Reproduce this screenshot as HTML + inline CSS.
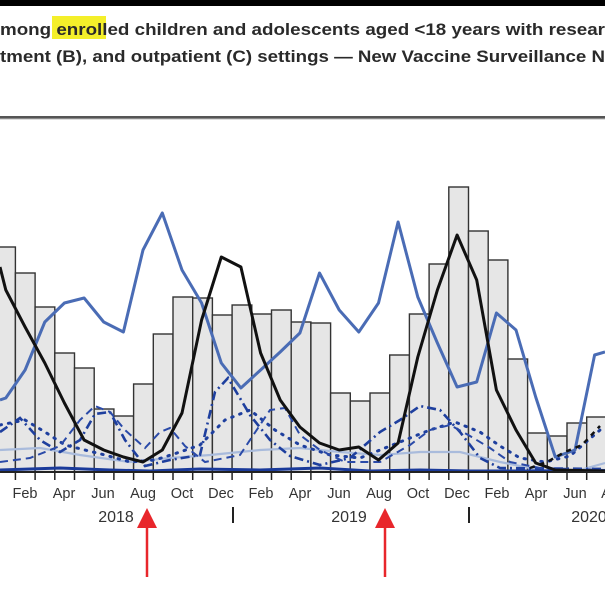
<!DOCTYPE html>
<html><head><meta charset="utf-8"><style>
html,body{margin:0;padding:0;background:#fff;}
svg{display:block;}
</style></head><body>
<svg width="605" height="595" viewBox="0 0 605 595" xmlns="http://www.w3.org/2000/svg">
<rect x="0" y="0" width="605" height="6" fill="#000"/>
<rect x="52" y="16" width="54" height="23" fill="#f4ef2a"/>
<g font-family="Liberation Sans, sans-serif" font-size="17" font-weight="bold" fill="#2a2a2a">
<text x="0" y="35" textLength="605" lengthAdjust="spacingAndGlyphs">mong enrolled children and adolescents aged &lt;18 years with resear</text>
<text x="0" y="62" textLength="605" lengthAdjust="spacingAndGlyphs">tment (B), and outpatient (C) settings — New Vaccine Surveillance N</text>
</g>
<rect x="0" y="116" width="605" height="2.5" fill="#555"/>
<rect x="0" y="118.5" width="605" height="1" fill="#bbb"/>
<g fill="#e6e6e6" stroke="#333" stroke-width="1.4">
<rect x="-4.3" y="247" width="19.7" height="225"/>
<rect x="15.4" y="273" width="19.7" height="199"/>
<rect x="35.1" y="307" width="19.7" height="165"/>
<rect x="54.8" y="353" width="19.7" height="119"/>
<rect x="74.5" y="368" width="19.7" height="104"/>
<rect x="94.2" y="409" width="19.7" height="63"/>
<rect x="113.9" y="416" width="19.7" height="56"/>
<rect x="133.6" y="384" width="19.7" height="88"/>
<rect x="153.3" y="334" width="19.7" height="138"/>
<rect x="173" y="297" width="19.7" height="175"/>
<rect x="192.7" y="298" width="19.7" height="174"/>
<rect x="212.4" y="315" width="19.7" height="157"/>
<rect x="232.1" y="305" width="19.7" height="167"/>
<rect x="251.8" y="314" width="19.7" height="158"/>
<rect x="271.5" y="310" width="19.7" height="162"/>
<rect x="291.2" y="322" width="19.7" height="150"/>
<rect x="310.9" y="323" width="19.7" height="149"/>
<rect x="330.6" y="393" width="19.7" height="79"/>
<rect x="350.3" y="401" width="19.7" height="71"/>
<rect x="370" y="393" width="19.7" height="79"/>
<rect x="389.7" y="355" width="19.7" height="117"/>
<rect x="409.4" y="314" width="19.7" height="158"/>
<rect x="429.1" y="264" width="19.7" height="208"/>
<rect x="448.8" y="187" width="19.7" height="285"/>
<rect x="468.5" y="231" width="19.7" height="241"/>
<rect x="488.2" y="260" width="19.7" height="212"/>
<rect x="507.9" y="359" width="19.7" height="113"/>
<rect x="527.6" y="433" width="19.7" height="39"/>
<rect x="547.3" y="436" width="19.7" height="36"/>
<rect x="567" y="423" width="19.7" height="49"/>
<rect x="586.7" y="417" width="19.7" height="55"/>
</g>
<!-- light blue -->
<polyline fill="none" stroke="#a9bbdc" stroke-width="2.2" points="0,450 40,448 80,455 130,462 170,458 210,455 260,450 300,448 340,452 380,455 420,452 460,452 500,462 540,470 580,470 605,463"/>
<!-- dashed / dotted navy series -->
<polyline fill="none" stroke="#1e3f9e" stroke-width="2.6" stroke-dasharray="9,4,2,4" points="0,432 20,418 40,440 60,452 80,440 95,414 110,412 125,440 145,466 170,460 200,455 215,392 228,378 250,415 270,440 290,456 320,465 350,458 380,432 400,420 420,406 440,410 460,432 480,458 500,468 605,469"/>
<polyline fill="none" stroke="#1e3f9e" stroke-width="3" stroke-dasharray="1.5,7" stroke-linecap="round" points="0,425 25,420 45,432 65,445 85,450 105,455 130,462 155,460 180,452 200,445 225,420 250,410 275,430 300,445 330,455 360,458 385,448 405,440 430,430 455,422 480,432 500,446 520,458 545,462 570,456 600,430"/>
<polyline fill="none" stroke="#2a4aa8" stroke-width="2" stroke-dasharray="8,5" points="0,462 30,458 60,446 80,420 95,406 110,412 125,430 145,448 160,432 170,428 185,446 205,462 240,455 270,410 285,408 300,435 320,450 345,462 380,462 410,445 430,430 450,425 470,436 490,448 510,462 540,468 605,470"/>
<polyline fill="none" stroke="#1a3a9a" stroke-width="3" points="0,470 60,468 110,470 150,471 200,469 260,470 320,468 370,471 420,470 470,471 520,471 605,471"/>
<!-- blue solid -->
<polyline fill="none" stroke="#4a6cb5" stroke-width="3" stroke-linejoin="round" points="0,400 5.8,398 25.1,370 44.8,322 64.4,303 84.1,298 103.7,322 123.4,332 143,250 162.3,213 182,270 201.6,303 221.3,363 240.9,388 260.6,370 280.2,352 299.9,333 319.5,273 339.2,310 358.8,332 378.5,303 398.1,222 417.8,297 437.4,343 457.1,387 476.7,382 496.4,313 516,330 535.7,397 555.3,457 575,450 594.6,355 605,352"/>
<!-- black solid -->
<polyline fill="none" stroke="#111" stroke-width="3" stroke-linejoin="round" points="0,267 5.8,290 25.1,327 44.8,363 64.4,403 84.1,440 103.7,450 123.4,457 143,462 162.3,450 182,413 201.6,320 221.3,257 240.9,267 260.6,353 280.2,400 299.9,427 319.5,443 339.2,450 358.8,447 378.5,460 398.1,443 417.8,357 437.4,290 457.1,235 476.7,280 496.4,390 516,430 535.7,463 555.3,470 605,471"/>
<polyline fill="none" stroke="#111" stroke-width="2.5" stroke-dasharray="5,5" points="530,468 547,462 565,452 582,445 600,426"/>
<!-- axis -->
<line x1="0" y1="472" x2="605" y2="472" stroke="#222" stroke-width="2"/>
<g stroke="#222" stroke-width="1.5">
<line x1="15.4" y1="472" x2="15.4" y2="480"/><line x1="35.1" y1="472" x2="35.1" y2="480"/><line x1="54.8" y1="472" x2="54.8" y2="480"/><line x1="74.5" y1="472" x2="74.5" y2="480"/><line x1="94.2" y1="472" x2="94.2" y2="480"/><line x1="113.9" y1="472" x2="113.9" y2="480"/><line x1="133.6" y1="472" x2="133.6" y2="480"/><line x1="153.3" y1="472" x2="153.3" y2="480"/><line x1="173" y1="472" x2="173" y2="480"/><line x1="192.7" y1="472" x2="192.7" y2="480"/><line x1="212.4" y1="472" x2="212.4" y2="480"/><line x1="232.1" y1="472" x2="232.1" y2="480"/><line x1="251.8" y1="472" x2="251.8" y2="480"/><line x1="271.5" y1="472" x2="271.5" y2="480"/><line x1="291.2" y1="472" x2="291.2" y2="480"/><line x1="310.9" y1="472" x2="310.9" y2="480"/><line x1="330.6" y1="472" x2="330.6" y2="480"/><line x1="350.3" y1="472" x2="350.3" y2="480"/><line x1="370" y1="472" x2="370" y2="480"/><line x1="389.7" y1="472" x2="389.7" y2="480"/><line x1="409.4" y1="472" x2="409.4" y2="480"/><line x1="429.1" y1="472" x2="429.1" y2="480"/><line x1="448.8" y1="472" x2="448.8" y2="480"/><line x1="468.5" y1="472" x2="468.5" y2="480"/><line x1="488.2" y1="472" x2="488.2" y2="480"/><line x1="507.9" y1="472" x2="507.9" y2="480"/><line x1="527.6" y1="472" x2="527.6" y2="480"/><line x1="547.3" y1="472" x2="547.3" y2="480"/><line x1="567" y1="472" x2="567" y2="480"/><line x1="586.7" y1="472" x2="586.7" y2="480"/>
</g>
<g font-family="Liberation Sans, sans-serif" font-size="14.5" fill="#333" text-anchor="middle">
<text x="-14" y="498">Dec</text>
<text x="25" y="498">Feb</text><text x="64" y="498">Apr</text><text x="103" y="498">Jun</text><text x="143" y="498">Aug</text><text x="182" y="498">Oct</text><text x="221" y="498">Dec</text>
<text x="261" y="498">Feb</text><text x="300" y="498">Apr</text><text x="339" y="498">Jun</text><text x="379" y="498">Aug</text><text x="418" y="498">Oct</text><text x="457" y="498">Dec</text>
<text x="497" y="498">Feb</text><text x="536" y="498">Apr</text><text x="575" y="498">Jun</text><text x="614" y="498">Aug</text>
</g>
<g font-family="Liberation Sans, sans-serif" font-size="16" fill="#333" text-anchor="middle">
<text x="116" y="522">2018</text><text x="349" y="522">2019</text><text x="589" y="522">2020</text>
</g>
<g stroke="#222" stroke-width="2"><line x1="233" y1="507" x2="233" y2="523"/><line x1="469" y1="507" x2="469" y2="523"/></g>
<g fill="#e8262b" stroke="#e8262b">
<line x1="147" y1="520" x2="147" y2="577" stroke-width="2.5"/>
<polygon points="147,508 137,528 157,528" stroke="none"/>
<line x1="385" y1="520" x2="385" y2="577" stroke-width="2.5"/>
<polygon points="385,508 375,528 395,528" stroke="none"/>
</g>
</svg>
</body></html>
